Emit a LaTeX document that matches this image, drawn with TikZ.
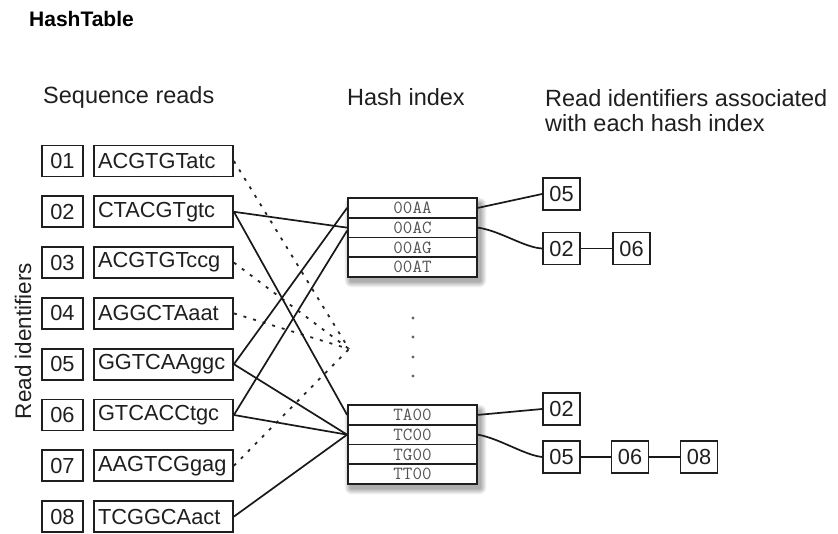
\documentclass[tikz,border=0pt]{standalone}
\usepackage{fontspec}
\setmainfont{Liberation Sans}
\usetikzlibrary{calc}
\begin{document}
\begin{tikzpicture}[x=1pt, y=-1pt,
  ink/.style={draw=black!88, line width=1.8pt},
  idbox/.style={ink, minimum width=41pt, minimum height=31pt, inner sep=0pt,
    font=\fontsize{21.8}{24}\selectfont, text=black!88},
  seqbox/.style={ink, minimum height=31pt, inner ysep=0pt, inner xsep=4pt,
    text width=131pt, align=left, font=\fontsize{21.8}{24}\selectfont, text=black!88},
  hashrow/.style={ink, minimum width=129pt, minimum height=19.75pt, inner sep=0pt,
    font=\ttfamily\fontsize{18.5}{18.5}\selectfont, text=black!68},
  rbox/.style={ink, minimum width=37pt, minimum height=32pt, inner sep=0pt,
    font=\fontsize{21.8}{24}\selectfont, text=black!88},
  heading/.style={inner sep=0pt, font=\fontsize{23.5}{25}\selectfont, text=black!88},
  link/.style={draw=black!90, line width=1.7pt},
  hint/.style={draw=black!85, line width=1.8pt, dash pattern=on 3pt off 7pt},
  dotmark/.style={fill=black!60}
]
\useasboundingbox[fill=white] (0,0) rectangle (838,534);

% titles
\node[inner sep=0pt, anchor=west, font=\bfseries\fontsize{21}{23}\selectfont] (title) at (29,19) {HashTable};
\node[heading, anchor=west] (hseq) at (43,97) {Sequence reads};
\node[heading, anchor=west] (hhash) at (347,97) {Hash index};
\node[heading, anchor=west, align=left] (hids) at (545,110.5) {Read identifiers associated\\with each hash index};
\node[heading, rotate=90, font=\fontsize{22.5}{24}\selectfont] (hreads) at (23,341) {Read identifiers};

% read identifiers and sequence reads
\foreach \i/\s [count=\k from 0] in {01/ACGTGTatc, 02/CTACGTgtc, 03/ACGTGTccg, 04/AGGCTAaat,
                                     05/GGTCAAggc, 06/GTCACCtgc, 07/AAGTCGgag, 08/TCGGCAact} {
  \node[idbox] (id\i) at (62.5,{161+50.8*\k}) {\i};
  \node[seqbox] (seq\i) at (163.5,{161+50.8*\k}) {\s};
}

% soft shadows under the two hash tables
\foreach \ty in {198,405} {
  \foreach \m in {1,...,7} {
    \fill[black, opacity=0.05, rounded corners=\m pt]
      ({348+3-\m*0.9},{\ty+6-\m*0.9}) rectangle ({477+3+\m*0.9},{\ty+79+4+\m*0.9});
  }
}

% hash tables
\foreach \t [count=\k from 0] in {00AA,00AC,00AG,00AT} {
  \node[hashrow, fill=white] (h\t) at (412.5,{207.9+19.75*\k}) {\t};
}
\foreach \t [count=\k from 0] in {TA00,TC00,TG00,TT00} {
  \node[hashrow, fill=white] (h\t) at (412.5,{414.9+19.75*\k}) {\t};
}

% elided hash indices
\foreach \y [count=\k] in {318,337,357,376} {
  \fill[dotmark] (413,\y) circle (1.7pt) coordinate (gap\k);
}

% reads hashing to elided indices
\coordinate (hub) at (349,349);
\foreach \r in {01,03,04,07} {
  \draw[hint] (seq\r.east) -- (hub);
}

% reads hashing to shown indices
\draw[link] (seq02.east) -- (h00AC.west);
\draw[link] (seq02.east) -- (hTA00.west);
\draw[link] (seq05.east) -- (h00AA.west);
\draw[link] (seq06.east) -- ([yshift=-3pt]h00AC.west);
\draw[link] (seq05.east) -- (hTC00.west);
\draw[link] (seq06.east) -- (hTC00.west);
\draw[link] (seq08.east) -- (hTC00.west);

% identifier lists
\node[rbox] (a05) at (561.5,194) {05};
\node[rbox] (a02) at (561.5,248.5) {02};
\node[rbox] (a06) at (631.5,248.5) {06};
\node[rbox] (b02) at (561.5,409) {02};
\node[rbox] (b05) at (561.5,457) {05};
\node[rbox] (b06) at (630,457) {06};
\node[rbox] (b08) at (699,457) {08};

\draw[link] (h00AA.east) -- (a05.west);
\draw[link] (h00AC.east) .. controls +(22,3) and +(-18,-1) .. (a02.west);
\draw[link] (a02) -- (a06);
\draw[link] (hTA00.east) -- (b02.west);
\draw[link] (hTC00.east) .. controls +(22,4) and +(-18,-2) .. (b05.west);
\draw[link] (b05) -- (b06);
\draw[link] (b06) -- (b08);
\end{tikzpicture}
\end{document}
